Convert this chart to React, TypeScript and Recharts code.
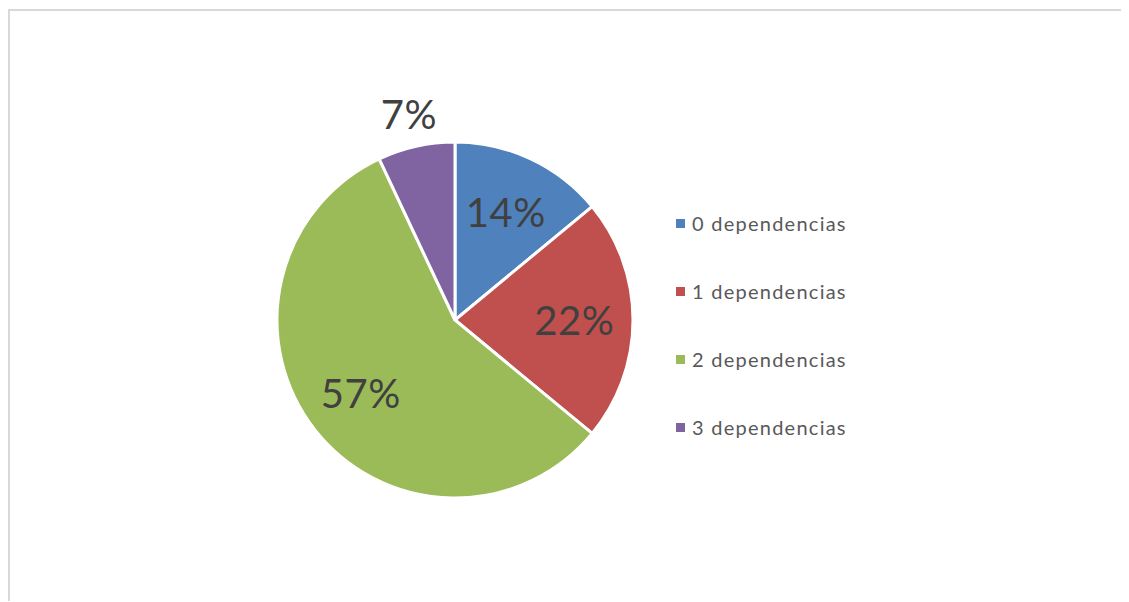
import { PieChart, Pie, Cell, Legend } from 'recharts';

const categories = ['0 dependencias', '1 dependencias', '2 dependencias', '3 dependencias'];
const shares = [14, 22, 57, 7];
const colors = ['#4f81bd', '#c0504d', '#9bbb59', '#8064a2'];

const data = categories.map((name, i) => ({ name, value: shares[i] }));

const RAD = Math.PI / 180;

function renderLabel(props: any) {
  const { cx, cy, midAngle, outerRadius, value } = props;
  // small slices get their label pushed outside, like Excel's best fit
  const r = value < 10 ? outerRadius + 33 : outerRadius * 0.67;
  const x = cx + r * Math.cos(-midAngle * RAD);
  const y = cy + r * Math.sin(-midAngle * RAD);
  return (
    <text
      x={x}
      y={y}
      fill="#404040"
      fontSize={40}
      letterSpacing={0.5}
      fontFamily="Lato, 'Open Sans', sans-serif"
      textAnchor="middle"
      dominantBaseline="central"
    >
      {`${value}%`}
    </text>
  );
}

function LegendContent({ payload }: any) {
  return (
    <div>
      {(payload ?? []).map((p: any) => (
        <div
          key={p.value}
          style={{ height: 68, display: 'flex', alignItems: 'center' }}
        >
          <span
            style={{
              width: 9,
              height: 9,
              background: p.color,
              display: 'inline-block',
              marginRight: 7,
            }}
          />
          <span
            style={{
              color: '#595959',
              fontSize: 20,
              letterSpacing: 1.25,
              fontFamily: "Lato, 'Open Sans', sans-serif",
            }}
          >
            {p.value}
          </span>
        </div>
      ))}
    </div>
  );
}

export default function App() {
  return (
    <div
      style={{
        marginTop: 1,
        width: 1121,
        height: 590,
        borderTop: '2px solid #d9d9d9',
        borderLeft: '2px solid #d9d9d9',
        background: '#fff',
      }}
    >
      <PieChart
        width={1119}
        height={588}
        margin={{ top: 0, right: 0, bottom: 0, left: 0 }}
      >
        <Pie
          data={data}
          dataKey="value"
          nameKey="name"
          cx={445}
          cy={309}
          outerRadius={178}
          startAngle={90}
          endAngle={-270}
          stroke="#fff"
          strokeWidth={3}
          label={renderLabel}
          labelLine={false}
          isAnimationActive={false}
        >
          {data.map((d, i) => (
            <Cell key={d.name} fill={colors[i]} />
          ))}
        </Pie>
        <Legend
          content={<LegendContent />}
          wrapperStyle={{ position: 'absolute', left: 666, top: 178, width: 260 }}
        />
      </PieChart>
    </div>
  );
}
